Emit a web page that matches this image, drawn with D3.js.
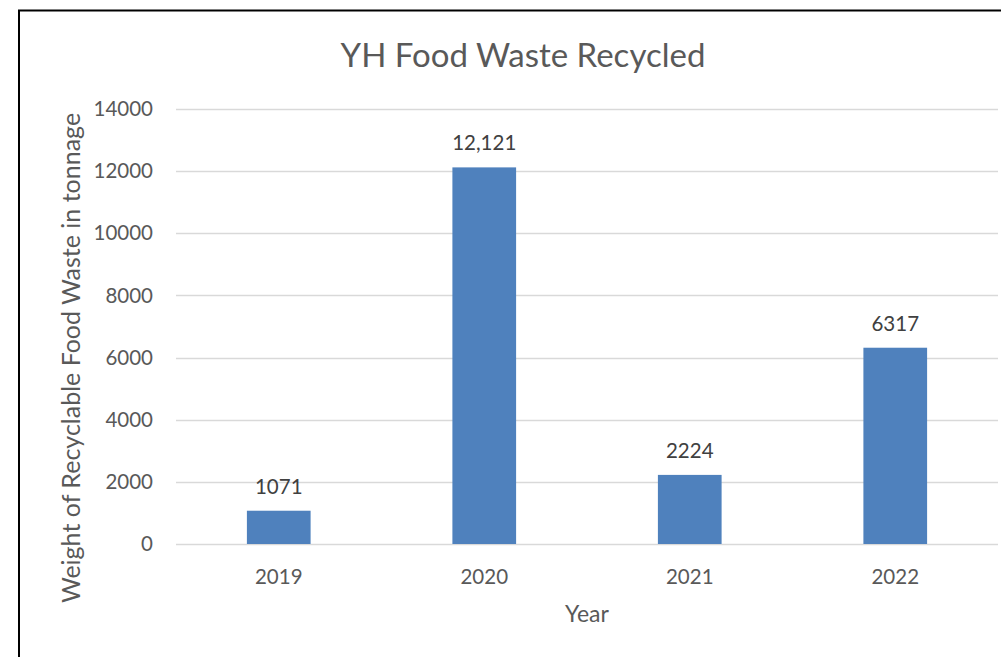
<!DOCTYPE html>
<html>
<head>
<meta charset="utf-8">
<script src="https://cdn.jsdelivr.net/npm/d3@7"></script>
<style>
  body { margin: 0; background: #fff; }
  svg text { font-family: Lato, "Open Sans", sans-serif; }
</style>
</head>
<body>
<div id="chart"></div>
<script>
const years = ["2019", "2020", "2021", "2022"];
const tonnage = [1071, 12121, 2224, 6317];
const valueLabels = ["1071", "12,121", "2224", "6317"];
const yTicks = [0, 2000, 4000, 6000, 8000, 10000, 12000, 14000];

const width = 1001, height = 657;
const plot = { left: 176, right: 998, top: 109, bottom: 544 };

const svg = d3.select("#chart").append("svg")
    .attr("width", width)
    .attr("height", height);

// outer frame (runs off the right and bottom edges)
svg.append("rect")
    .attr("x", 19).attr("y", 10.5)
    .attr("width", 1100).attr("height", 800)
    .attr("fill", "none")
    .attr("stroke", "#000")
    .attr("stroke-width", 2);

const x = d3.scaleBand()
    .domain(years)
    .range([plot.left, plot.right])
    .paddingInner(0.69)
    .paddingOuter(0.345);

const y = d3.scaleLinear()
    .domain([0, 14000])
    .range([plot.bottom, plot.top]);

// gridlines
svg.append("g")
    .selectAll("line")
    .data(yTicks)
    .enter().append("line")
    .attr("x1", plot.left).attr("x2", plot.right)
    .attr("y1", d => Math.round(y(d)) + 0.5)
    .attr("y2", d => Math.round(y(d)) + 0.5)
    .attr("stroke", "#d9d9d9")
    .attr("stroke-width", 1.5);

// y tick labels
svg.append("g")
    .selectAll("text")
    .data(yTicks)
    .enter().append("text")
    .attr("x", 153)
    .attr("y", d => y(d))
    .attr("dy", "0.35em")
    .attr("text-anchor", "end")
    .attr("font-size", 20.5)
    .attr("fill", "#595959")
    .text(d => d);

// bars
svg.append("g")
    .selectAll("rect")
    .data(tonnage)
    .enter().append("rect")
    .attr("x", (d, i) => x(years[i]))
    .attr("width", x.bandwidth())
    .attr("y", d => y(d))
    .attr("height", d => y(0) - y(d))
    .attr("fill", "#4f81bd");

// value labels
svg.append("g")
    .selectAll("text")
    .data(tonnage)
    .enter().append("text")
    .attr("x", (d, i) => x(years[i]) + x.bandwidth() / 2)
    .attr("y", d => y(d) - 17)
    .attr("text-anchor", "middle")
    .attr("font-size", 20.5)
    .attr("fill", "#404040")
    .text((d, i) => valueLabels[i]);

// x tick labels
svg.append("g")
    .selectAll("text")
    .data(years)
    .enter().append("text")
    .attr("x", d => x(d) + x.bandwidth() / 2)
    .attr("y", 584)
    .attr("text-anchor", "middle")
    .attr("font-size", 20.5)
    .attr("fill", "#595959")
    .text(d => d);

// title
svg.append("text")
    .attr("x", 523)
    .attr("y", 67)
    .attr("text-anchor", "middle")
    .attr("font-size", 33)
    .attr("fill", "#595959")
    .text("YH Food Waste Recycled");

// axis titles
svg.append("text")
    .attr("x", 587)
    .attr("y", 622)
    .attr("text-anchor", "middle")
    .attr("font-size", 23)
    .attr("fill", "#595959")
    .text("Year");

svg.append("text")
    .attr("transform", "translate(80,358) rotate(-90)")
    .attr("text-anchor", "middle")
    .attr("font-size", 25)
    .attr("fill", "#595959")
    .text("Weight of Recyclable Food Waste in tonnage");
</script>
</body>
</html>
